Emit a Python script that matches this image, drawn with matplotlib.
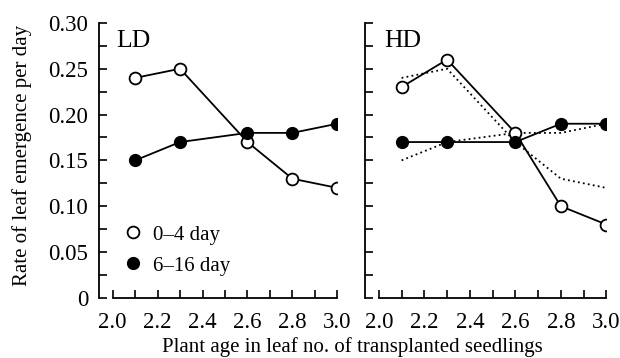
import matplotlib.pyplot as plt
from matplotlib.lines import Line2D
from matplotlib.ticker import MultipleLocator

# Data
age = [2.1, 2.3, 2.6, 2.8, 3.0]
ld_early = [0.24, 0.25, 0.17, 0.13, 0.12]   # 0-4 day, LD
ld_late = [0.15, 0.17, 0.18, 0.18, 0.19]    # 6-16 day, LD
hd_early = [0.23, 0.26, 0.18, 0.10, 0.08]   # 0-4 day, HD
hd_late = [0.17, 0.17, 0.17, 0.19, 0.19]    # 6-16 day, HD
y_ticks = [0, 0.05, 0.10, 0.15, 0.20, 0.25, 0.30]
y_ticklabels = ["0", "0.05", "0.10", "0.15", "0.20", "0.25", "0.30"]
x_ticks = [2.0, 2.2, 2.4, 2.6, 2.8, 3.0]

plt.rcParams['font.family'] = ['Liberation Serif', 'DejaVu Serif']
plt.rcParams['font.size'] = 15

fig = plt.figure(figsize=(6.2, 3.58), dpi=100)
ax1 = fig.add_axes([0.160, 0.168, 0.384, 0.768])
ax2 = fig.add_axes([0.589, 0.168, 0.389, 0.768])

open_style = dict(color='black', lw=1.3, marker='o', ms=8.5, mfc='white',
                  mec='black', mew=1.3, zorder=3)
fill_style = dict(color='black', lw=1.3, marker='o', ms=8.5, mfc='black',
                  mec='black', zorder=3)

ax1.plot(age, ld_early, **open_style)
ax1.plot(age, ld_late, **fill_style)

# HD panel, with the LD lines repeated as dotted lines
ax2.plot(age, ld_early, color='black', lw=1.3, ls=(0, (1, 1.8)), zorder=2)
ax2.plot(age, ld_late, color='black', lw=1.3, ls=(0, (1, 1.8)), zorder=2)
ax2.plot(age, hd_early, **open_style)
ax2.plot(age, hd_late, **fill_style)

for ax in (ax1, ax2):
    ax.set_xlim(1.94, 3.0)
    ax.set_ylim(0, 0.30)
    ax.spines['top'].set_visible(False)
    ax.spines['right'].set_visible(False)
    ax.spines['bottom'].set_bounds(2.0, 3.0)
    ax.spines['left'].set_bounds(0, 0.30)
    ax.set_xticks(x_ticks)
    ax.set_xticklabels([f"{x:.1f}" for x in x_ticks])
    ax.xaxis.set_minor_locator(MultipleLocator(0.1))
    ax.set_yticks(y_ticks)
    ax.yaxis.set_minor_locator(MultipleLocator(0.025))
    ax.tick_params(which='both', direction='in', length=6, width=1.2,
                   labelsize=16.5)
    ax.tick_params(axis='x', pad=10)
    ax.tick_params(axis='y', pad=8)
    for sp in ax.spines.values():
        sp.set_linewidth(1.3)
    ax.set_clip_on(False)

ax1.set_yticklabels(y_ticklabels)
ax2.set_yticklabels([])

ax1.text(0.07, 0.975, "LD", transform=ax1.transAxes, fontsize=18.5, va='top')
ax2.text(0.08, 0.975, "HD", transform=ax2.transAxes, fontsize=18.5, va='top')

fig.text(0.036, 0.567, "Rate of leaf emergence per day", rotation=90,
         ha='center', va='center')
fig.text(0.568, 0.03, "Plant age in leaf no. of transplanted seedlings",
         ha='center', va='center')

handles = [Line2D([], [], ls='none', marker='o', ms=8.5, mfc='white', mec='black', mew=1.3),
           Line2D([], [], ls='none', marker='o', ms=8.5, mfc='black', mec='black')]
ax1.legend(handles, ["0\u20134 day", "6\u201316 day"], loc='lower left',
           bbox_to_anchor=(0.06, 0.05), frameon=False, handletextpad=0.4,
           labelspacing=0.55, borderaxespad=0, handlelength=1.1)

plt.savefig("out.png", dpi=100)
